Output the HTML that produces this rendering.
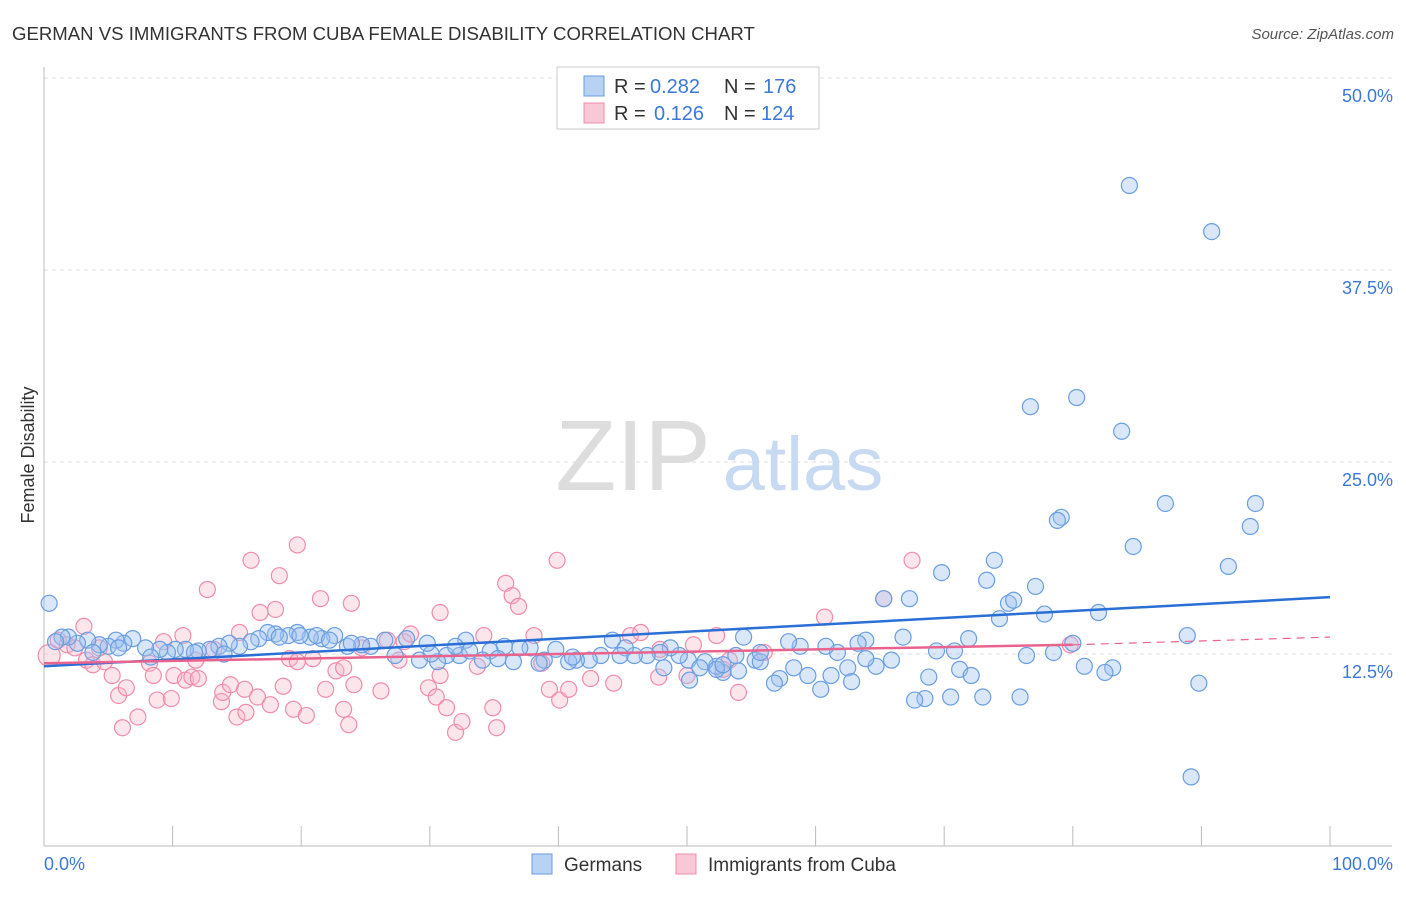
<!DOCTYPE html>
<html><head><meta charset="utf-8"><style>
body{margin:0;background:#fff;font-family:"Liberation Sans",sans-serif;}
svg text{font-family:"Liberation Sans",sans-serif;}
</style></head><body>
<svg id="chart" width="1406" height="892">
<text x="12" y="40" font-size="18.6" fill="#333">GERMAN VS IMMIGRANTS FROM CUBA FEMALE DISABILITY CORRELATION CHART</text>
<text x="1394" y="39" font-size="15" fill="#555" text-anchor="end" font-style="italic">Source: ZipAtlas.com</text>
<g id="grid"></g>
<g>
<text x="633" y="490" font-size="100" fill="#ddd" text-anchor="middle" font-family="Liberation Serif,serif">ZIP</text>
<text x="803" y="490" font-size="76" fill="#c8daf2" text-anchor="middle">atlas</text>
</g>
<g id="pts"></g>
<g id="lines"></g>
<text transform="translate(34,455) rotate(-90)" font-size="18" fill="#333" text-anchor="middle">Female Disability</text>
<text x="44" y="870" font-size="18" fill="#3b78d8">0.0%</text>
<text x="1393" y="870" font-size="18" fill="#3b78d8" text-anchor="end">100.0%</text>
<g>
<rect x="557" y="67" width="262" height="62" fill="#fff" stroke="#ccc"/>
<rect x="584" y="76" width="20" height="20" fill="#b8d2f4" stroke="#6a9ee0"/>
<rect x="584" y="103" width="20" height="20" fill="#f9c8d6" stroke="#f08cab"/>
<text x="614" y="93" font-size="20" fill="#333">R =</text>
<text x="650" y="93" font-size="20" fill="#3b78d8">0.282</text>
<text x="724" y="93" font-size="20" fill="#333">N =</text>
<text x="763" y="93" font-size="20" fill="#3b78d8">176</text>
<text x="614" y="120" font-size="20" fill="#333">R =</text>
<text x="654" y="120" font-size="20" fill="#3b78d8">0.126</text>
<text x="724" y="120" font-size="20" fill="#333">N =</text>
<text x="761" y="120" font-size="20" fill="#3b78d8">124</text>
</g>
<g>
<rect x="532" y="854" width="20" height="20" fill="#b8d2f4" stroke="#6a9ee0"/>
<text x="564" y="871" font-size="19" fill="#333">Germans</text>
<rect x="676" y="854" width="20" height="20" fill="#f9c8d6" stroke="#f08cab"/>
<text x="708" y="871" font-size="19" fill="#333">Immigrants from Cuba</text>
</g>
</svg>
<script>
const yTicks=[12.5,25,37.5,50];
const yTickLabels=["12.5%","25.0%","37.5%","50.0%"];
const xTicks=[0,10,20,30,40,50,60,70,80,90,100];
const germansX=[84.4,90.8,76.7,80.3,83.8,79.1,78.8,87.2,94.2,93.8,84.7,73.9,69.8,73.3,77.1,92.1,67.3,65.3,75,75.4,77.8,82,74.3,88.9,80,78.5,76.4,80.9,83.1,82.5,89.8,89.2,75.9,73,70.5,68.5,67.7,71.9,69.4,70.8,71.2,72.1,68.8,66.8,65.9,64.7,63.9,63.3,62.5,62.8,61.7,60.8,61.2,60.4,58.8,57.9,59.4,58.3,57.2,56.8,54.4,55.3,55.7,54,52.8,52.3,51.4,50.2,50.1,49.4,48.7,48.2,47.9,46.9,45.9,45.2,44.2,43.3,42.4,41.4,40.8,39.8,38.9,38.5,37.8,36.5,35.8,34.7,34.1,32.8,32.3,31.3,30.6,30.1,29.2,28.2,27.3,26.5,25.4,24.7,23.6,22.6,21.6,20.7,19.7,19,18,17.4,16.7,16.1,15.2,14.4,13.6,12.9,12,11,10.2,9.6,9,7.9,6.9,6.2,5.6,5,4.3,3.4,2.6,1.9,1.4,0.9,0.4,19.9,21.2,22.2,23.9,18.3,14,11.7,8.3,5.8,3.8,29.8,32,33.1,35.3,37,41.1,44.8,51,52.3,55.7,63.9,53.8,52.8];
const germansY=[43,40,28.6,29.2,27,21.4,21.2,22.3,22.3,20.8,19.5,18.6,17.8,17.3,16.9,18.2,16.1,16.1,15.8,16,15.1,15.2,14.8,13.7,13.2,12.6,12.4,11.7,11.6,11.3,10.6,4.5,9.7,9.7,9.7,9.6,9.5,13.5,12.7,12.7,11.5,11.1,11,13.6,12.1,11.7,13.4,13.2,11.6,10.7,12.6,13,11.1,10.2,13,13.3,11.1,11.6,10.9,10.6,13.6,12.1,12,11.4,11.3,11.7,12,10.8,12.1,12.4,12.9,11.6,12.6,12.4,12.4,12.9,13.4,12.4,12.1,12.1,12,12.8,12.1,11.9,12.9,12,13,12.7,12.1,13.4,12.4,12.4,12,12.5,12.1,13.5,12.4,13.4,13,13.1,13,13.7,13.5,13.6,13.9,13.7,13.8,13.9,13.5,13.3,13,13.2,13,12.8,12.7,12.8,12.8,12.6,12.8,12.9,13.5,13.2,13.4,13,13.1,13.4,13.2,13.6,13.6,13.3,15.8,13.7,13.7,13.4,13.2,13.6,12.5,12.6,12.3,12.9,12.6,13.2,13,12.7,12.2,12.9,12.3,12.4,11.6,11.5,12.6,12.2,12.4,11.8];
const cubaX=[0.4,1.1,1.8,2.4,3.1,3.3,3.8,4.7,4.3,5.3,5.8,6.4,6.1,7.3,8.2,8.5,8.8,9.3,9.9,10.1,11,11.5,12,10.8,11.8,12.7,13.2,13.8,13.9,14.5,15,15.7,15.6,15.2,16.1,16.6,16.8,17.6,18,18.3,18.6,19.1,19.4,19.7,19.7,20.4,20.9,21.5,21.9,22.7,23.3,23.3,23.7,23.9,24.1,24.7,26.2,26.7,27.6,28,28.5,29.9,30.5,30.8,30.8,31.3,32,32.5,33.7,34.2,34.9,35.2,35.9,36.4,36.9,38.1,38.7,39.3,39.9,40.1,40.8,42.5,44.3,45.6,46.4,47.8,47.9,50,50.5,52.3,52.8,53.3,54,56,60.7,65.3,67.5,79.8];
const cubaY=[12.4,13.4,13.1,12.9,14.3,12.1,11.8,12,12.9,11.1,9.8,10.3,7.7,8.4,11.9,11.1,9.5,13.3,9.6,11.1,10.8,11,10.9,13.7,12.1,16.7,12.8,9.4,10,10.5,8.4,8.7,10.2,13.9,18.6,9.7,15.2,9.2,15.4,17.6,10.4,12.2,8.9,19.6,12,8.5,12.2,16.1,10.2,11.4,11.6,8.9,7.9,15.8,10.5,12.9,10.1,13.4,12.1,13.3,13.8,10.3,9.7,15.2,11.1,9,7.4,8.1,11.7,13.7,9,7.7,17.1,16.3,15.6,13.7,11.9,10.2,18.6,9.5,10.2,10.9,10.6,13.7,13.9,11,12.8,11.1,13.1,13.7,11.5,12.1,10,12.6,14.9,16.1,18.6,13.1];
const blueLine=[11.7,16.2];
const pinkLine=[11.9,13.1,13.6];
const NS="http://www.w3.org/2000/svg";
const X=v=>44+v*12.86, Y=v=>846-v*15.36;
function mk(t,a,p){const e=document.createElementNS(NS,t);for(const k in a)e.setAttribute(k,a[k]);p.appendChild(e);return e;}
const grid=document.getElementById('grid');
yTicks.forEach((t,i)=>{
 const l=mk('line',{x1:44,x2:1392,y1:Y(t),y2:Y(t),stroke:'#ddd','stroke-dasharray':'4,4'},grid);
 
 
 const tx=mk('text',{x:1393,y:Y(t)+24,'font-size':18,fill:'#3b78d8','text-anchor':'end'},grid);
 tx.textContent=yTickLabels[i];
 
 
});
const ax=mk('line',{x1:44,x2:44,y1:67,y2:846,stroke:'#bbb'},grid);


const bx=mk('line',{x1:44,x2:1392,y1:846,y2:846,stroke:'#bbb'},grid);


xTicks.forEach(t=>{
 const l=mk('line',{x1:X(t),x2:X(t),y1:826,y2:846,stroke:'#bbb'},grid);
 
 
});
const pts=document.getElementById('pts');
cubaX.forEach((x,i)=>{
 const c=mk('circle',{cx:X(x),cy:Y(cubaY[i]),r:i==0?11:8,fill:'rgba(248,180,200,0.35)',stroke:'#f08cab','stroke-width':1.2},pts);
 
 
});
germansX.forEach((x,i)=>{
 const c=mk('circle',{cx:X(x),cy:Y(germansY[i]),r:8,fill:'rgba(160,196,240,0.4)',stroke:'#6a9ee0','stroke-width':1.2},pts);
 
 
});
const lines=document.getElementById('lines');
const bl=mk('line',{x1:X(0),y1:Y(blueLine[0]),x2:X(100),y2:Y(blueLine[1]),stroke:'#2a6fd6','stroke-width':2.5},lines);


const pl=mk('line',{x1:X(0),y1:Y(pinkLine[0]),x2:X(80),y2:Y(pinkLine[1]),stroke:'#e8648f','stroke-width':2.5},lines);


const pd=mk('line',{x1:X(80),y1:Y(pinkLine[1]),x2:X(100),y2:Y(pinkLine[2]),stroke:'#e8648f','stroke-width':1.2,'stroke-dasharray':'8,6'},lines);


</script>
</body></html>
